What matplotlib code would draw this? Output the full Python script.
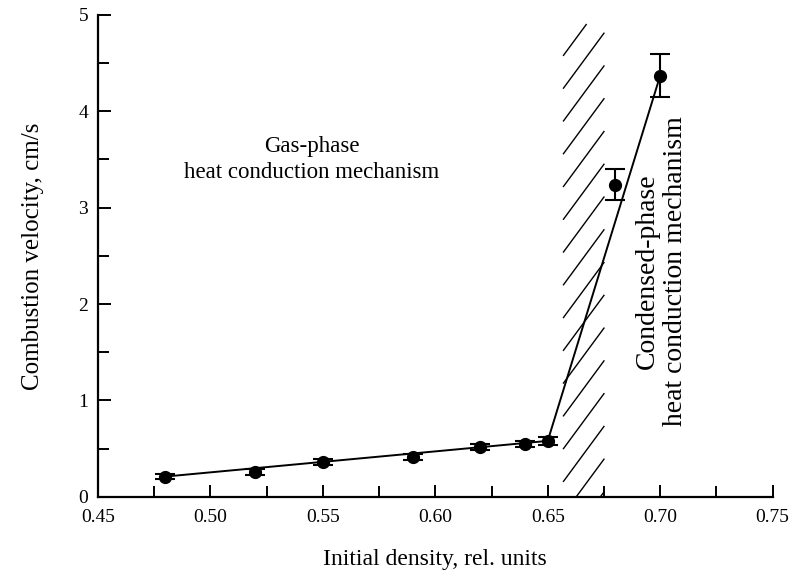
import numpy as np
import matplotlib
matplotlib.use("Agg")
import matplotlib.pyplot as plt
from matplotlib.ticker import MultipleLocator, FormatStrFormatter

plt.rcParams["font.family"] = ["Liberation Serif", "DejaVu Serif"]

# measured points
density = [0.48, 0.52, 0.55, 0.59, 0.62, 0.64, 0.65, 0.68, 0.70]
velocity = [0.21, 0.26, 0.36, 0.41, 0.52, 0.55, 0.58, 3.24, 4.37]
vel_err = [0.03, 0.03, 0.03, 0.03, 0.03, 0.03, 0.04, 0.16, 0.22]

# approximating lines (gas-phase fit, then jump)
line_x = [0.48, 0.65, 0.70]
line_y = [0.21, 0.58, 4.37]

# transition zone
zone_left, zone_right = 0.657, 0.675
zone_top = 4.9

fig = plt.figure(figsize=(7.9, 5.73), dpi=100)
ax = fig.add_axes([0.124, 0.133, 0.854, 0.841])

ax.plot(line_x, line_y, color="black", lw=1.4)
ax.errorbar(density, velocity, yerr=vel_err, fmt="o", color="black",
            ms=8.5, capsize=7, elinewidth=1.5, capthick=1.5)

# hatched band: slanted strokes across band width
rise = 0.57
step = 0.34
for y0 in np.arange(4.58, -rise, -step):
    x1, y1 = zone_right, y0 + rise
    if y1 > zone_top:
        x1 = zone_left + (zone_top - y0) / rise * (zone_right - zone_left)
        y1 = zone_top
    ax.plot([zone_left, x1], [y0, y1], color="black", lw=1.0)

ax.text(0.545, 3.5, "Gas-phase\nheat conduction mechanism", ha="center",
        va="center", fontsize=16.5, linespacing=1.3)
ax.text(0.7005, 2.34, "Condensed-phase\nheat conduction mechanism", ha="center",
        va="center", rotation=90, fontsize=20, linespacing=1.15)

ax.set_xlim(0.45, 0.75)
ax.set_ylim(0, 5)
ax.xaxis.set_major_locator(MultipleLocator(0.05))
ax.xaxis.set_minor_locator(MultipleLocator(0.025))
ax.yaxis.set_major_locator(MultipleLocator(1))
ax.yaxis.set_minor_locator(MultipleLocator(0.5))
ax.xaxis.set_major_formatter(FormatStrFormatter("%.2f"))

ax.spines["top"].set_visible(False)
ax.spines["right"].set_visible(False)
ax.spines["left"].set_linewidth(1.6)
ax.spines["bottom"].set_linewidth(1.6)
ax.tick_params(which="both", direction="in", width=1.4, labelsize=14)
ax.tick_params(which="major", length=9)
ax.tick_params(which="minor", length=8)
ax.tick_params(axis="x", pad=9)
ax.tick_params(axis="y", pad=7)

ax.set_xlabel("Initial density, rel. units", fontsize=17, labelpad=16)
ax.set_ylabel("Combustion velocity, cm/s", fontsize=18, labelpad=25)

fig.savefig("out.png", dpi=100)
